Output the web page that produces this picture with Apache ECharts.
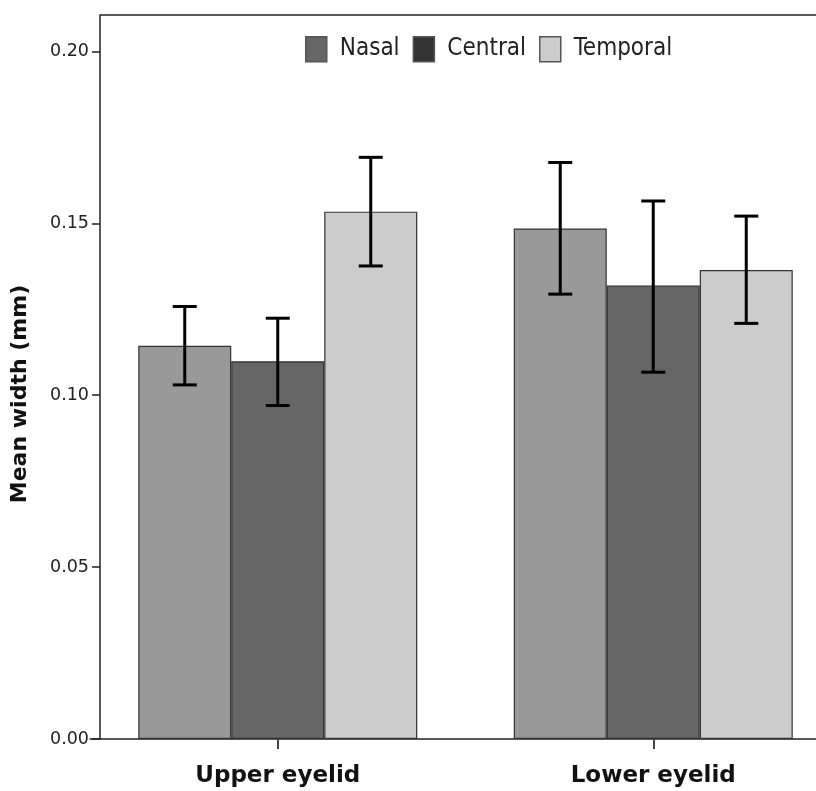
<!DOCTYPE html>
<html>
<head>
<meta charset="utf-8">
<script src="https://cdn.jsdelivr.net/npm/echarts@6/dist/echarts.min.js"></script>
<style>
html,body{margin:0;padding:0;background:#fff;}
#chart{width:816px;height:791px;}
</style>
</head>
<body>
<div id="chart"></div>
<script>
var categories = ['Upper eyelid', 'Lower eyelid'];
var seriesNames = ['Nasal', 'Central', 'Temporal'];
var nasal = [0.1144, 0.1485];
var central = [0.1099, 0.1319];
var temporal = [0.1534, 0.1364];
var nasalLow = [0.1030, 0.1294];
var nasalHigh = [0.1258, 0.1677];
var centralLow = [0.0970, 0.1067];
var centralHigh = [0.1224, 0.1565];
var temporalLow = [0.1376, 0.1209];
var temporalHigh = [0.1692, 0.1521];
var yTicks = [0, 0.05, 0.10, 0.15, 0.20];

var barColors = ['#999999', '#666666', '#cccccc'];
var legendColors = ['#666666', '#333333', '#cccccc'];
var BAR_W = 93;

var values = [nasal, central, temporal];
var lows = [nasalLow, centralLow, temporalLow];
var highs = [nasalHigh, centralHigh, temporalHigh];

var chart = echarts.init(document.getElementById('chart'));

var series = [];
seriesNames.forEach(function (name, i) {
  series.push({
    name: name,
    type: 'bar',
    barWidth: BAR_W,
    barGap: '0%',
    data: values[i],
    itemStyle: { color: barColors[i], borderColor: '#333333', borderWidth: 1.2 },
    emphasis: { disabled: true },
    animation: false
  });
});
seriesNames.forEach(function (name, i) {
  series.push({
    type: 'custom',
    name: name + ' err',
    data: categories.map(function (c, k) { return [k, lows[i][k], highs[i][k]]; }),
    z: 10,
    animation: false,
    renderItem: function (params, api) {
      var k = api.value(0);
      var lo = api.coord([k, api.value(1)]);
      var hi = api.coord([k, api.value(2)]);
      var x = lo[0] + (i - 1) * BAR_W;
      var cap = 12;
      var st = { stroke: '#000000', lineWidth: 3 };
      return {
        type: 'group',
        children: [
          { type: 'line', shape: { x1: x, y1: hi[1], x2: x, y2: lo[1] }, style: st },
          { type: 'line', shape: { x1: x - cap, y1: hi[1], x2: x + cap, y2: hi[1] }, style: st },
          { type: 'line', shape: { x1: x - cap, y1: lo[1], x2: x + cap, y2: lo[1] }, style: st }
        ]
      };
    }
  });
});

chart.setOption({
  backgroundColor: '#ffffff',
  animation: false,
  legend: {
    data: seriesNames.map(function (n, i) {
      return { name: n, itemStyle: { color: legendColors[i], borderColor: '#555555', borderWidth: 1.5 } };
    }),
    left: 300,
    top: 31,
    itemWidth: 21,
    itemHeight: 25,
    itemGap: 13,
    icon: 'rect',
    textStyle: { fontFamily: "'Liberation Sans Narrow', 'DejaVu Sans Condensed', sans-serif", fontSize: 24, color: '#222222', padding: [0, 0, 0, 8] }
  },
  grid: { left: 90, width: 751, top: 15, bottom: 52, containLabel: false, outerBoundsMode: 'none' },
  xAxis: {
    type: 'category',
    data: categories,
    axisLine: { lineStyle: { color: '#222222', width: 1.5 } },
    axisTick: { show: true, interval: 0, alignWithLabel: true, length: 10, lineStyle: { color: '#444444', width: 2 } },
    axisLabel: { interval: 0, margin: 26, fontFamily: 'DejaVu Sans', fontWeight: 'bold', fontSize: 23, color: '#111111' }
  },
  yAxis: {
    type: 'value',
    min: 0,
    max: 0.2106,
    interval: 0.05,
    offset: -10,
    name: 'Mean width (mm)',
    nameLocation: 'middle',
    nameGap: 69,
    nameRotate: 90,
    nameTextStyle: { fontFamily: 'DejaVu Sans', fontWeight: 'bold', fontSize: 22, color: '#111111', padding: [0, 34, 0, 0] },
    splitLine: { show: false },
    axisLine: { show: true, lineStyle: { color: '#222222', width: 1.5 } },
    axisTick: { show: true, length: 8, customValues: yTicks, lineStyle: { color: '#222222', width: 1.5 } },
    axisLabel: {
      customValues: yTicks,
      margin: 11,
      fontFamily: 'DejaVu Sans',
      fontSize: 17.5,
      color: '#222222',
      formatter: function (v) { return v.toFixed(2); }
    }
  },
  series: series
});

var p0 = chart.convertToPixel({ gridIndex: 0 }, [0, 0.2106]);
chart.setOption({
  graphic: [{
    type: 'line',
    shape: { x1: 100, y1: p0[1], x2: 816, y2: p0[1] },
    style: { stroke: '#222222', lineWidth: 1.5 },
    z: 100
  }]
});
</script>
</body>
</html>
